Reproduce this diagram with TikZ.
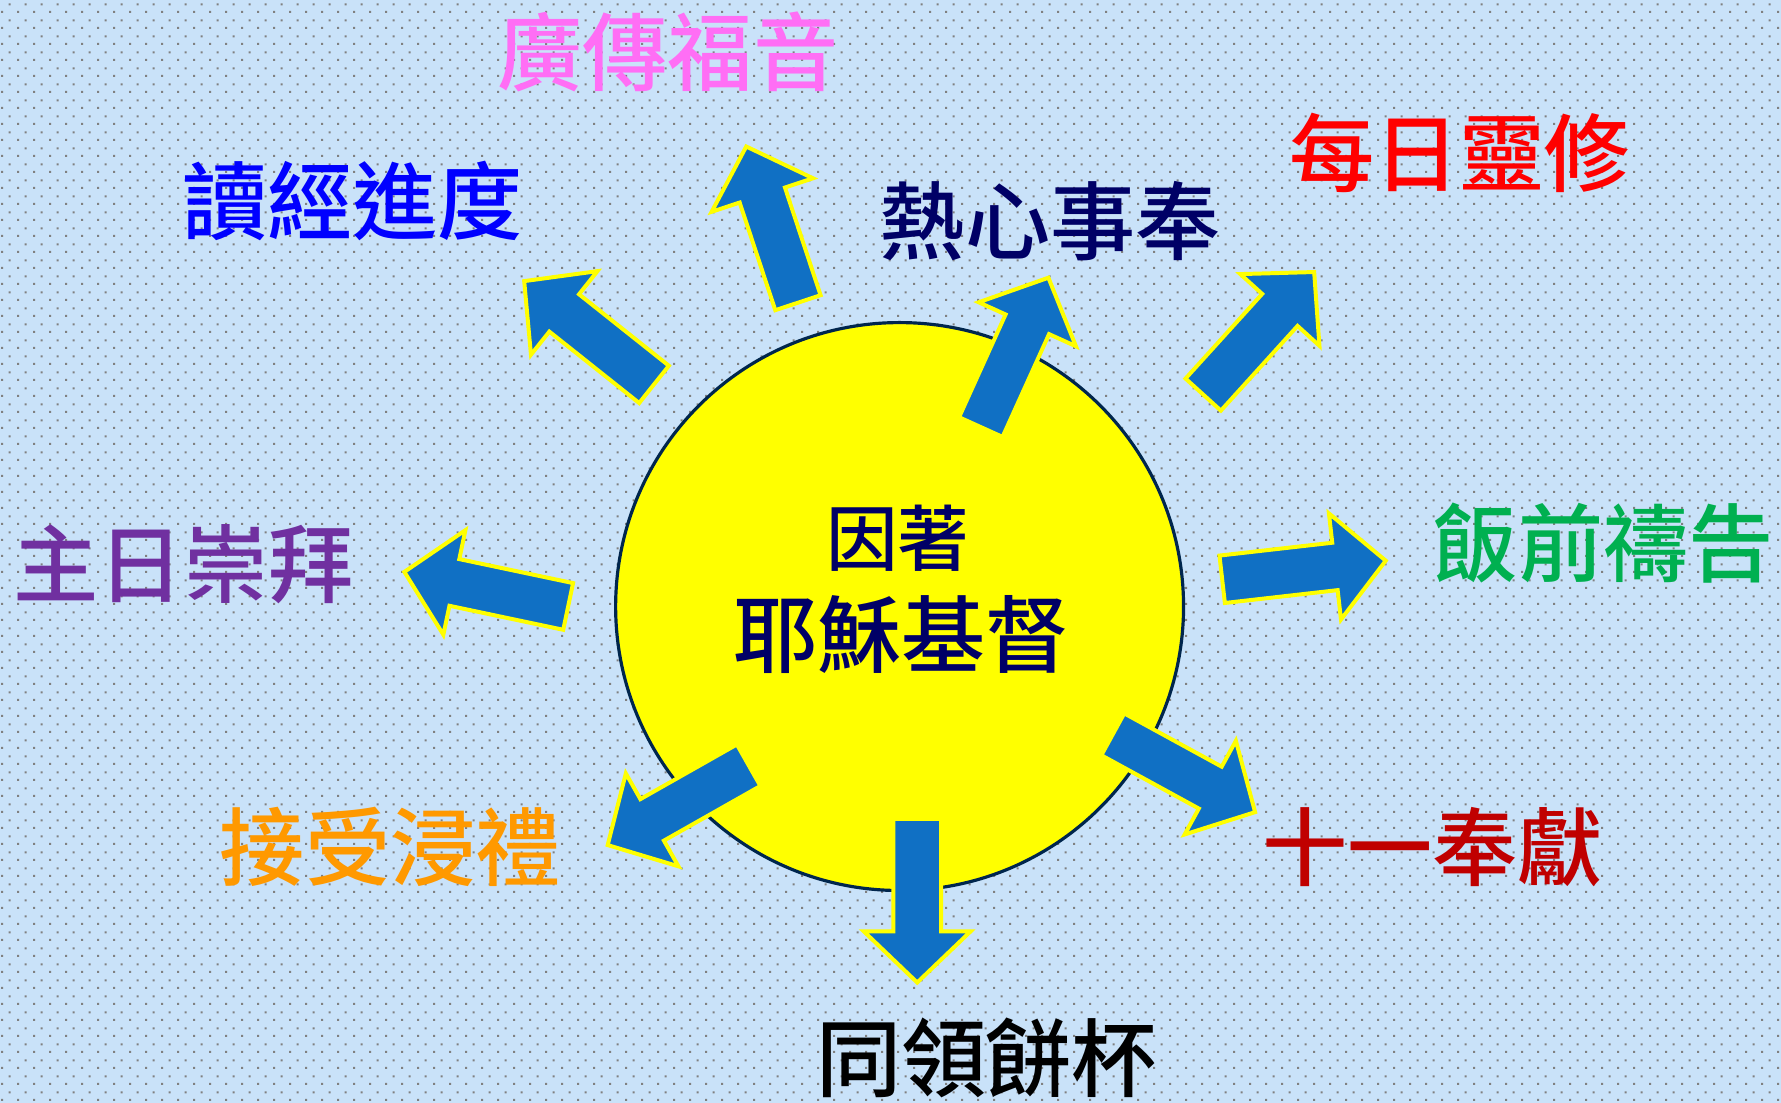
\documentclass[tikz,border=0pt]{standalone}
\usepackage{fontspec}
\newfontfamily\cjk{Noto Sans CJK TC}[BoldFont={Noto Sans CJK TC Medium}]
\usetikzlibrary{calc,patterns}
\definecolor{bgblue}{RGB}{201,226,249}
\definecolor{dotgray}{RGB}{128,128,128}
\definecolor{arrowblue}{RGB}{16,112,196}
\definecolor{pureyellow}{RGB}{255,255,0}
\definecolor{navy}{RGB}{0,0,102}
\definecolor{rimnavy}{RGB}{0,38,77}
\definecolor{pinklab}{RGB}{255,110,245}
\definecolor{bluelab}{RGB}{0,0,255}
\definecolor{redlab}{RGB}{255,0,0}
\definecolor{purplelab}{RGB}{112,48,160}
\definecolor{greenlab}{RGB}{0,176,80}
\definecolor{orangelab}{RGB}{255,153,0}
\definecolor{darkredlab}{RGB}{192,0,0}
\definecolor{blacklab}{RGB}{0,0,0}
\pgfdeclarepatternformonly{stagdots}{\pgfpointorigin}{\pgfpoint{14.09pt}{14.09pt}}{\pgfpoint{14.09pt}{14.09pt}}{%
  \pgfpathrectangle{\pgfpoint{2pt}{2pt}}{\pgfpoint{1.8pt}{1.8pt}}%
  \pgfpathrectangle{\pgfpoint{9.045pt}{9.045pt}}{\pgfpoint{1.8pt}{1.8pt}}%
  \pgfusepath{fill}}
\tikzset{
  lab/.style={font=\cjk\bfseries\fontsize{75}{80}\selectfont, inner sep=0pt, anchor=center},
  barrow/.style={fill=arrowblue, draw=pureyellow, line width=3.5pt, line join=miter},
}
\newcommand{\blockarrow}[2]{%
  \coordinate (#1h) at ($(#2)!45pt!(#1)$);
  \draw[barrow] ($(#1)!21pt!90:(#2)$) -- ($(#1h)!21pt!90:(#2)$) -- ($(#1h)!47pt!90:(#2)$)
    -- (#2) -- ($(#1h)!47pt!-90:(#2)$) -- ($(#1h)!21pt!-90:(#2)$) -- ($(#1)!21pt!-90:(#2)$) -- cycle;}
\begin{document}
\begin{tikzpicture}[x=1pt,y=-1pt]
\useasboundingbox (0,0) rectangle (1568,971);
\fill[bgblue] (0,0) rectangle (1568,971);
\fill[pattern=stagdots, pattern color=dotgray] (0,0) rectangle (1568,971);

% centre disc
\node[circle, fill=pureyellow, draw=rimnavy, line width=2.8pt, minimum size=500pt, inner sep=0pt] (core) at (792,534) {};

% arrows: tail and tip coordinates
\coordinate (a1) at (702.5,266.5);  \coordinate (b1) at (657,129);
\coordinate (a2) at (575.8,338.4);  \coordinate (b2) at (461.5,247.5);
\coordinate (a3) at (863.5,376);    \coordinate (b3) at (923,244.5);
\coordinate (a4) at (1059.3,347.4); \coordinate (b4) at (1157,239.5);
\coordinate (a5) at (500.2,533.9);  \coordinate (b5) at (356,503.5);
\coordinate (a6) at (1076,510);     \coordinate (b6) at (1220,493.6);
\coordinate (a7) at (659.1,673.7);  \coordinate (b7) at (535,744);
\coordinate (a8) at (979.7,646.5);  \coordinate (b8) at (1105,715);
\coordinate (a9) at (807.5,721);    \coordinate (b9) at (807.5,865);
\blockarrow{a1}{b1}
\blockarrow{a2}{b2}
\blockarrow{a3}{b3}
\blockarrow{a4}{b4}
\blockarrow{a5}{b5}
\blockarrow{a6}{b6}
\blockarrow{a7}{b7}
\blockarrow{a8}{b8}
\blockarrow{a9}{b9}

% centre text
\node[lab, font=\cjk\bfseries\fontsize{63}{68}\selectfont, text=navy] (because) at (790.5,474) {因著};
\node[lab, font=\cjk\bfseries\fontsize{74}{80}\selectfont, text=navy] (jesus) at (794,559) {耶穌基督};

% labels
\node[lab, text=pinklab] (gospel) at (588,45.5) {廣傳福音};
\node[lab, text=bluelab] (bible) at (310.3,176.8) {讀經進度};
\node[lab, text=navy] (serve) at (924.6,194.5) {熱心事奉};
\node[lab, text=redlab] (devotion) at (1285,135) {每日靈修};
\node[lab, text=purplelab] (worship) at (161.5,497) {主日崇拜};
\node[lab, text=greenlab] (grace) at (1411.5,478.5) {飯前禱告};
\node[lab, text=orangelab] (baptism) at (343.6,745.8) {接受浸禮};
\node[lab, text=darkredlab] (tithe) at (1261.4,745.5) {十一奉獻};
\node[lab, text=blacklab] (communion) at (868.5,931.4) {同領餅杯};
\end{tikzpicture}
\end{document}
